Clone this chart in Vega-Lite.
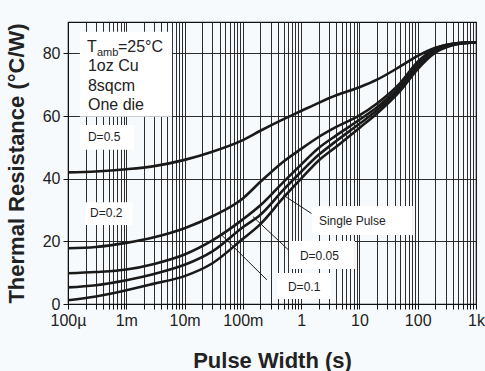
{
  "$schema": "https://vega.github.io/schema/vega-lite/v6.json",
  "width": 408,
  "height": 282,
  "autosize": {"type": "none"},
  "padding": {"left": 68, "top": 22, "right": 9, "bottom": 67},
  "background": "#f7fafc",
  "config": {
    "view": {"stroke": "#111", "strokeWidth": 1.2, "fill": "#f7fafc"},
    "font": "Liberation Sans",
    "axis": {
      "domainColor": "#111",
      "tickColor": "#111",
      "gridColor": "#222",
      "gridWidth": 1,
      "gridOpacity": 0.95,
      "labelColor": "#222",
      "labelFontSize": 16,
      "labelFont": "Liberation Sans",
      "titleFont": "Liberation Sans",
      "titleFontWeight": "bold",
      "titleFontSize": 22,
      "titleColor": "#222"
    }
  },
  "datasets": {
    "curves": [
      {"series": "D=0.5", "x": 0.0001, "y": 42.0},
      {"series": "D=0.5", "x": 0.0003, "y": 42.3},
      {"series": "D=0.5", "x": 0.001, "y": 43.0},
      {"series": "D=0.5", "x": 0.003, "y": 44.0},
      {"series": "D=0.5", "x": 0.01, "y": 46.0},
      {"series": "D=0.5", "x": 0.03, "y": 48.6},
      {"series": "D=0.5", "x": 0.1, "y": 52.3},
      {"series": "D=0.5", "x": 0.2, "y": 55.3},
      {"series": "D=0.5", "x": 0.5, "y": 59.0},
      {"series": "D=0.5", "x": 1, "y": 61.6},
      {"series": "D=0.5", "x": 2, "y": 64.2},
      {"series": "D=0.5", "x": 4, "y": 66.6},
      {"series": "D=0.5", "x": 10, "y": 69.2},
      {"series": "D=0.5", "x": 20, "y": 71.6},
      {"series": "D=0.5", "x": 50, "y": 75.8},
      {"series": "D=0.5", "x": 100, "y": 79.2},
      {"series": "D=0.5", "x": 200, "y": 81.8},
      {"series": "D=0.5", "x": 500, "y": 83.3},
      {"series": "D=0.5", "x": 1000, "y": 83.5},
      {"series": "D=0.2", "x": 0.0001, "y": 17.8},
      {"series": "D=0.2", "x": 0.0003, "y": 18.2},
      {"series": "D=0.2", "x": 0.001, "y": 19.5},
      {"series": "D=0.2", "x": 0.003, "y": 21.3},
      {"series": "D=0.2", "x": 0.01, "y": 24.2},
      {"series": "D=0.2", "x": 0.03, "y": 28.0},
      {"series": "D=0.2", "x": 0.1, "y": 33.7},
      {"series": "D=0.2", "x": 0.2, "y": 39.0},
      {"series": "D=0.2", "x": 0.5, "y": 45.5},
      {"series": "D=0.2", "x": 1, "y": 49.5},
      {"series": "D=0.2", "x": 2, "y": 53.3},
      {"series": "D=0.2", "x": 4, "y": 56.5},
      {"series": "D=0.2", "x": 10, "y": 60.2},
      {"series": "D=0.2", "x": 20, "y": 64.0},
      {"series": "D=0.2", "x": 50, "y": 70.5},
      {"series": "D=0.2", "x": 100, "y": 77.3},
      {"series": "D=0.2", "x": 200, "y": 81.5},
      {"series": "D=0.2", "x": 500, "y": 83.3},
      {"series": "D=0.2", "x": 1000, "y": 83.5},
      {"series": "D=0.1", "x": 0.0001, "y": 9.8},
      {"series": "D=0.1", "x": 0.0003, "y": 10.2},
      {"series": "D=0.1", "x": 0.001, "y": 11.0},
      {"series": "D=0.1", "x": 0.003, "y": 12.8},
      {"series": "D=0.1", "x": 0.01, "y": 15.8},
      {"series": "D=0.1", "x": 0.03, "y": 20.3},
      {"series": "D=0.1", "x": 0.1, "y": 27.0},
      {"series": "D=0.1", "x": 0.2, "y": 31.5},
      {"series": "D=0.1", "x": 0.5, "y": 39.0},
      {"series": "D=0.1", "x": 1, "y": 44.5},
      {"series": "D=0.1", "x": 2, "y": 49.8},
      {"series": "D=0.1", "x": 4, "y": 53.8},
      {"series": "D=0.1", "x": 10, "y": 58.8},
      {"series": "D=0.1", "x": 20, "y": 62.8},
      {"series": "D=0.1", "x": 50, "y": 69.5},
      {"series": "D=0.1", "x": 100, "y": 76.5},
      {"series": "D=0.1", "x": 200, "y": 81.0},
      {"series": "D=0.1", "x": 500, "y": 83.2},
      {"series": "D=0.1", "x": 1000, "y": 83.5},
      {"series": "D=0.05", "x": 0.0001, "y": 5.3},
      {"series": "D=0.05", "x": 0.0003, "y": 6.0},
      {"series": "D=0.05", "x": 0.001, "y": 7.6},
      {"series": "D=0.05", "x": 0.003, "y": 9.6},
      {"series": "D=0.05", "x": 0.01, "y": 12.5},
      {"series": "D=0.05", "x": 0.03, "y": 16.8},
      {"series": "D=0.05", "x": 0.1, "y": 24.5},
      {"series": "D=0.05", "x": 0.2, "y": 28.5},
      {"series": "D=0.05", "x": 0.5, "y": 36.5},
      {"series": "D=0.05", "x": 1, "y": 42.2},
      {"series": "D=0.05", "x": 2, "y": 47.6},
      {"series": "D=0.05", "x": 4, "y": 52.0},
      {"series": "D=0.05", "x": 10, "y": 57.5},
      {"series": "D=0.05", "x": 20, "y": 61.8},
      {"series": "D=0.05", "x": 50, "y": 68.8},
      {"series": "D=0.05", "x": 100, "y": 75.8},
      {"series": "D=0.05", "x": 200, "y": 80.6},
      {"series": "D=0.05", "x": 500, "y": 83.1},
      {"series": "D=0.05", "x": 1000, "y": 83.5},
      {"series": "Single Pulse", "x": 0.0001, "y": 1.2},
      {"series": "Single Pulse", "x": 0.0003, "y": 2.4},
      {"series": "Single Pulse", "x": 0.001, "y": 4.4},
      {"series": "Single Pulse", "x": 0.003, "y": 6.5},
      {"series": "Single Pulse", "x": 0.01, "y": 8.9},
      {"series": "Single Pulse", "x": 0.03, "y": 13.0},
      {"series": "Single Pulse", "x": 0.1, "y": 20.8},
      {"series": "Single Pulse", "x": 0.2, "y": 25.5},
      {"series": "Single Pulse", "x": 0.5, "y": 34.0},
      {"series": "Single Pulse", "x": 1, "y": 40.0},
      {"series": "Single Pulse", "x": 2, "y": 45.8},
      {"series": "Single Pulse", "x": 4, "y": 50.2},
      {"series": "Single Pulse", "x": 10, "y": 56.2},
      {"series": "Single Pulse", "x": 20, "y": 60.8},
      {"series": "Single Pulse", "x": 50, "y": 68.0},
      {"series": "Single Pulse", "x": 100, "y": 75.0},
      {"series": "Single Pulse", "x": 200, "y": 80.2},
      {"series": "Single Pulse", "x": 500, "y": 83.0},
      {"series": "Single Pulse", "x": 1000, "y": 83.5}
    ],
    "pointers": [
      {"x": 0.49, "y": 34.8, "x2": 1.5, "y2": 28.9},
      {"x": 0.149, "y": 27.9, "x2": 0.61, "y2": 17.2},
      {"x": 0.0433, "y": 22.0, "x2": 0.258, "y2": 7.7}
    ],
    "boxes": [
      {"x": 0.00016, "x2": 0.0061, "y": 59.8, "y2": 86.9},
      {"x": 0.00016, "x2": 0.00135, "y": 49.2, "y2": 57.1},
      {"x": 0.000196, "x2": 0.00129, "y": 25.2, "y2": 32.5},
      {"x": 1.53, "x2": 82.8, "y": 22.0, "y2": 31.3},
      {"x": 0.618, "x2": 8.37, "y": 11.2, "y2": 20.1},
      {"x": 0.385, "x2": 3.24, "y": 1.6, "y2": 9.9}
    ],
    "bigText": [
      {"x": 0.000212, "y": 80.5, "text": "T"},
      {"x": 0.00072, "y": 80.5, "text": "=25°C"},
      {"x": 0.00022, "y": 74.4, "text": "1oz Cu"},
      {"x": 0.00022, "y": 68.0, "text": "8sqcm"},
      {"x": 0.00022, "y": 61.9, "text": "One die"}
    ],
    "subText": [
      {"x": 0.000314, "y": 80.5, "text": "amb"}
    ],
    "smallText": [
      {"x": 0.00022, "y": 52.1, "text": "D=0.5"},
      {"x": 0.000239, "y": 27.9, "text": "D=0.2"},
      {"x": 2.02, "y": 25.2, "text": "Single Pulse"},
      {"x": 0.953, "y": 14.0, "text": "D=0.05"},
      {"x": 0.594, "y": 4.2, "text": "D=0.1"}
    ]
  },
  "layer": [
    {
      "data": {"name": "curves"},
      "mark": {"type": "line", "color": "#1a1a1a", "strokeWidth": 2.6, "interpolate": "monotone"},
      "encoding": {
        "x": {
          "field": "x", "type": "quantitative",
          "scale": {"type": "log", "domain": [0.0001, 1000], "nice": false},
          "axis": {
            "title": "Pulse Width (s)",
            "values": [0.0001,0.0002,0.0003,0.0004,0.0005,0.0006,0.0007,0.0008,0.0009,0.001,0.002,0.003,0.004,0.005,0.006,0.007,0.008,0.009,0.01,0.02,0.03,0.04,0.05,0.06,0.07,0.08,0.09,0.1,0.2,0.3,0.4,0.5,0.6,0.7,0.8,0.9,1,2,3,4,5,6,7,8,9,10,20,30,40,50,60,70,80,90,100,200,300,400,500,600,700,800,900,1000],
            "labelExpr": "abs(log(datum.value)/LN10 - round(log(datum.value)/LN10)) < 0.001 ? ['100µ','1m','10m','100m','1','10','100','1k'][round(log(datum.value)/LN10) + 4] : ''",
            "labelFlush": false,
            "labelOverlap": false,
            "tickSize": 5,
            "labelPadding": 3,
            "titlePadding": 22,
            "grid": true
          }
        },
        "y": {
          "field": "y", "type": "quantitative",
          "scale": {"domain": [0, 90], "nice": false},
          "axis": {
            "title": "Thermal Resistance (°C/W)",
            "values": [0,10,20,30,40,50,60,70,80,90],
            "labelExpr": "datum.value % 20 == 0 && datum.value < 90 ? datum.label : ''",
            "labelFlush": false,
            "labelOverlap": false,
            "tickSize": 5,
            "labelPadding": 3,
            "titlePadding": 14,
            "grid": true
          }
        },
        "detail": {"field": "series", "type": "nominal"}
      }
    },
    {
      "data": {"name": "pointers"},
      "mark": {"type": "rule", "color": "#1a1a1a", "strokeWidth": 1},
      "encoding": {
        "x": {"field": "x", "type": "quantitative"},
        "y": {"field": "y", "type": "quantitative"},
        "x2": {"field": "x2"},
        "y2": {"field": "y2"}
      }
    },
    {
      "data": {"name": "boxes"},
      "mark": {"type": "rect", "fill": "#ffffff", "stroke": null},
      "encoding": {
        "x": {"field": "x", "type": "quantitative"},
        "x2": {"field": "x2"},
        "y": {"field": "y", "type": "quantitative"},
        "y2": {"field": "y2"}
      }
    },
    {
      "data": {"name": "bigText"},
      "mark": {"type": "text", "align": "left", "baseline": "alphabetic", "fontSize": 16, "color": "#222", "font": "Liberation Sans"},
      "encoding": {
        "x": {"field": "x", "type": "quantitative"},
        "y": {"field": "y", "type": "quantitative"},
        "text": {"field": "text"}
      }
    },
    {
      "data": {"name": "subText"},
      "mark": {"type": "text", "align": "left", "baseline": "alphabetic", "fontSize": 11, "dy": 4, "color": "#222", "font": "Liberation Sans"},
      "encoding": {
        "x": {"field": "x", "type": "quantitative"},
        "y": {"field": "y", "type": "quantitative"},
        "text": {"field": "text"}
      }
    },
    {
      "data": {"name": "smallText"},
      "mark": {"type": "text", "align": "left", "baseline": "alphabetic", "fontSize": 12, "color": "#222", "font": "Liberation Sans"},
      "encoding": {
        "x": {"field": "x", "type": "quantitative"},
        "y": {"field": "y", "type": "quantitative"},
        "text": {"field": "text"}
      }
    }
  ]
}
